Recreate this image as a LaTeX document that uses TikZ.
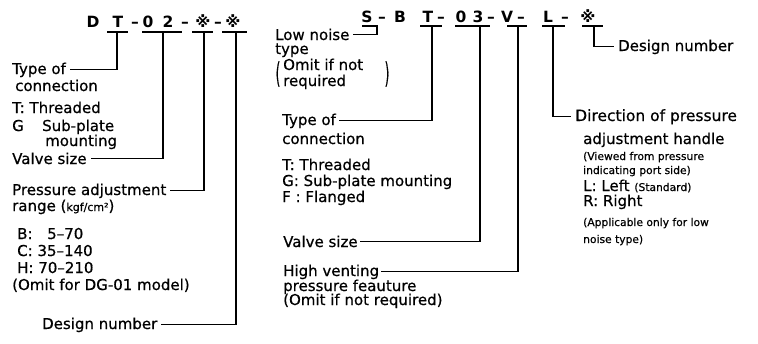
\documentclass[tikz,border=0pt]{standalone}
\usepackage{fontspec}
\setmainfont{DejaVu Sans}
\newfontfamily\lblfont{DejaVu Sans}[FakeBold=0.6]
\begin{document}
\begin{tikzpicture}[x=1pt,y=-1pt,
  lbl/.style={anchor=base west, inner sep=0pt, font=\lblfont\fontsize{15}{18}\selectfont},
  sml/.style={anchor=base west, inner sep=0pt, font=\lblfont\fontsize{10.7}{13}\selectfont},
  codech/.style={anchor=base, inner sep=0pt, font=\fontsize{15.5}{18}\selectfont\bfseries},
  paren/.style={inner sep=0pt, font=\lblfont\fontsize{15}{18}\selectfont},
  ln/.style={line width=1.1pt, black},
  ]
\useasboundingbox (0,0) rectangle (758,343);
% ---------- left code ----------
\node[codech] (cD) at (93,27) {D};
\node[codech] (cT) at (118,27) {T};
\node[codech] (cd1) at (135,27) {–};
\node[codech] (c0) at (148,27) {0};
\node[codech] (c2) at (168,27) {2};
\node[codech] (cd2) at (185,27) {–};
\node[codech] (cs1) at (203,27) {※};
\node[codech] (cd3) at (218,27) {–};
\node[codech] (cs2) at (233,27) {※};
\draw[ln] (107,32) -- (128,32);
\draw[ln] (142,32) -- (182,32);
\draw[ln] (192,32) -- (213,32);
\draw[ln] (222,32) -- (247,32);
\coordinate (uT) at (117,32);
\coordinate (u02) at (163,32);
\coordinate (us1) at (204,32);
\coordinate (us2) at (236,32);
% ---------- left labels ----------
\node[lbl] (typeA) at (12,74) {Type of};
\node[lbl] (connA) at (15,91) {connection};
\node[lbl] (tA) at (12,113) {T: Threaded};
\node[lbl] (gA) at (12,131) {G};
\node[lbl] (spA) at (42,131) {Sub-plate};
\node[lbl] (mA) at (45,146) {mounting};
\node[lbl] (valveA) at (12,164) {Valve size};
\node[lbl] (pressA) at (12,195) {Pressure adjustment};
\node[lbl] (rangeA) at (12,211) {range ({\fontsize{11}{12}\selectfont kgf/cm²})};
\node[lbl] (bA) at (17,239) {B:};
\node[lbl] (bvA) at (47,239) {5–70};
\node[lbl] (cA) at (17,256) {C: 35–140};
\node[lbl] (hA) at (17,273) {H: 70–210};
\node[lbl] (omitA) at (12,290) {(Omit for DG-01 model)};
\node[lbl] (designA) at (42,329) {Design number};
\draw[ln] (uT) |- ([xshift=4pt]typeA.east);
\draw[ln] (u02) |- ([xshift=4pt]valveA.east);
\draw[ln] (us1) |- ([xshift=3pt]pressA.east);
\draw[ln] (us2) |- ([xshift=3pt]designA.east);
% ---------- right code ----------
\node[codech] (rS) at (367,22) {S};
\node[codech] (rd1) at (382,22) {–};
\node[codech] (rB) at (400,22) {B};
\node[codech] (rT) at (428,22) {T};
\node[codech] (rd2) at (441,22) {–};
\node[codech] (r0) at (461,22) {0};
\node[codech] (r3) at (478,22) {3};
\node[codech] (rd3) at (491,22) {–};
\node[codech] (rV) at (507,22) {V};
\node[codech] (rd4) at (521,22) {–};
\node[codech] (rL) at (548,22) {L};
\node[codech] (rd5) at (565,22) {–};
\node[codech] (rs) at (588,22) {※};
\draw[ln] (362,26) -- (378,26);
\draw[ln] (420,26) -- (442,26);
\draw[ln] (455,26) -- (490,26);
\draw[ln] (507,26) -- (527,26);
\draw[ln] (542,26) -- (565,26);
\draw[ln] (582,26) -- (603,26);
\coordinate (vS) at (377,26);
\coordinate (vT) at (432,26);
\coordinate (v03) at (480,26);
\coordinate (vV) at (518,26);
\coordinate (vL) at (553,26);
\coordinate (vs) at (594,26);
% ---------- middle labels ----------
\node[lbl] (lowB) at (275,40) {Low noise};
\node[lbl] (typeB0) at (275,54) {type};
\node[paren] (lpB) at (278,74) {\scalebox{0.8}[1.9]{(}};
\node[lbl] (omitB1) at (283,70) {Omit if not};
\node[lbl] (omitB2) at (283,86) {required};
\node[paren] (rpB) at (387,74) {\scalebox{0.8}[1.9]{)}};
\node[lbl] (typeB) at (282,125) {Type of};
\node[lbl] (connB) at (282,144) {connection};
\node[lbl] (tB) at (282,170) {T: Threaded};
\node[lbl] (gB) at (282,186) {G: Sub-plate mounting};
\node[lbl] (fB) at (282,202) {F : Flanged};
\node[lbl] (valveB) at (283,247) {Valve size};
\node[lbl] (highB) at (283,276) {High venting};
\node[lbl] (presB) at (283,291) {pressure feauture};
\node[lbl] (omitB) at (283,305) {(Omit if not required)};
\draw[ln] (vS) |- ([xshift=3pt]lowB.east);
\draw[ln] (vT) |- ([xshift=3pt]typeB.east);
\draw[ln] (v03) |- ([xshift=2pt]valveB.east);
\draw[ln] (vV) |- ([xshift=2pt]highB.east);
% ---------- right labels ----------
\node[lbl] (designC) at (618,51) {Design number};
\node[lbl, font=\lblfont\fontsize{15.5}{18}\selectfont] (dirC) at (575,121) {Direction of pressure};
\node[lbl] (adjC) at (583,144) {adjustment handle};
\node[sml] (viewC) at (583,160) {(Viewed from pressure};
\node[sml] (indC) at (583,174) {indicating port side)};
\node[lbl] (lC) at (583,191) {L: Left {\fontsize{10.7}{13}\selectfont(Standard)}};
\node[lbl] (rC) at (583,206) {R: Right};
\node[sml] (appC) at (583,226) {(Applicable only for low};
\node[sml] (noiseC) at (583,243) {noise type)};
\draw[ln] (vs) |- ([xshift=-4pt]designC.west);
\draw[ln] (vL) |- ([xshift=-4pt]dirC.west);
\end{tikzpicture}
\end{document}
